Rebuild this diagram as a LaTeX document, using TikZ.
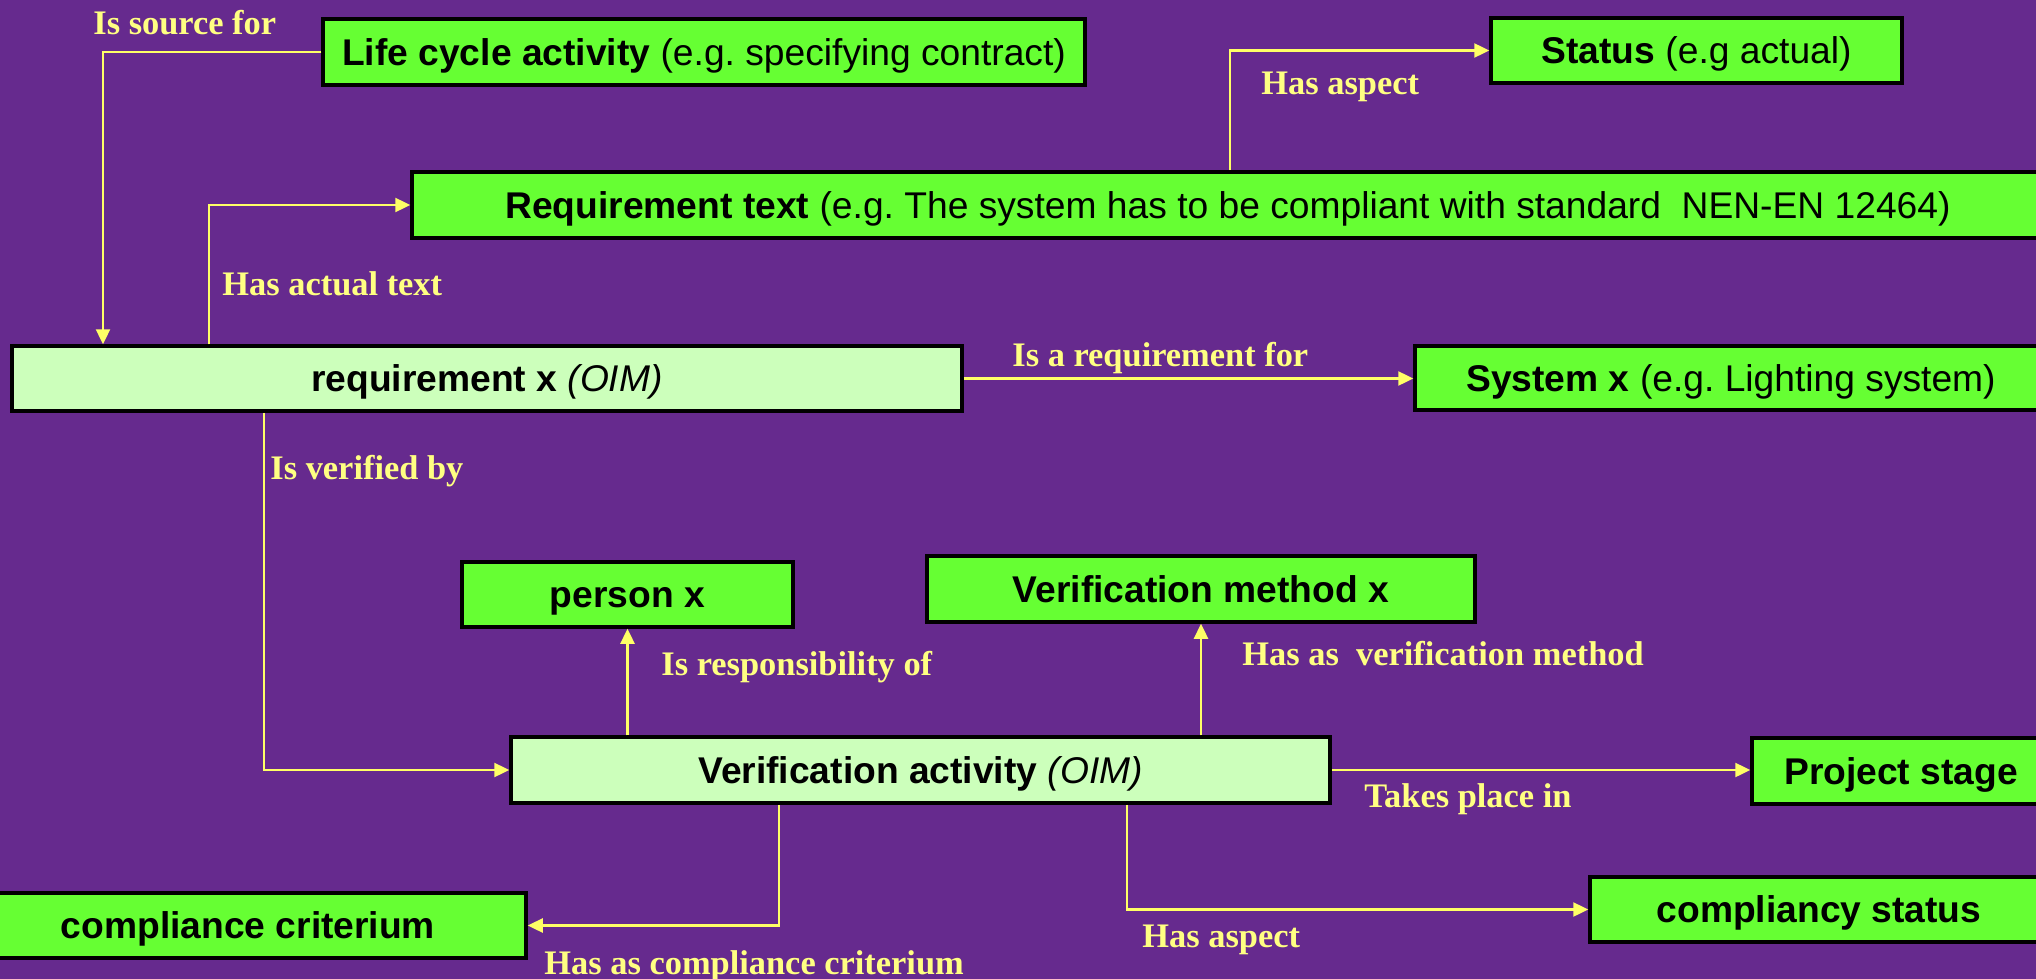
\documentclass[tikz,border=0pt]{standalone}
\usepackage{fontspec}
\setmainfont{Liberation Serif}
\newfontfamily\arialf{Liberation Sans}
\usetikzlibrary{arrows.meta}
\definecolor{bgpurple}{RGB}{102,42,142}
\definecolor{boxgreen}{RGB}{102,255,51}
\definecolor{lightgreen}{RGB}{204,255,187}
\definecolor{lineyellow}{RGB}{255,255,102}
\definecolor{labelyellow}{RGB}{255,255,130}
\frenchspacing
\begin{document}
\begin{tikzpicture}[x=0.5pt,y=-0.5pt,
  box/.style={draw=black, line width=1.75pt, fill=boxgreen, inner sep=0pt,
    font=\arialf\fontsize{18.6}{22}\selectfont, text height=13.4pt, text depth=0pt, anchor=center},
  oim/.style={box, fill=lightgreen},
  conn/.style={draw=lineyellow, line width=1.2pt, -{Triangle[length=7.5pt,width=7pt]}},
  lbl/.style={text=labelyellow, font=\bfseries\fontsize{17.2}{20}\selectfont, inner sep=0pt, anchor=base west}]
\useasboundingbox (0,0) rectangle (2036,979);
\fill[bgpurple] (0,0) rectangle (2036,979);

% boxes
\node[box, minimum width=381pt, minimum height=33pt] (life) at (704,52) {\textbf{Life cycle activity} (e.g. specifying contract)};
\node[box, minimum width=205.5pt, minimum height=32.5pt] (status) at (1696.5,50.5) {\textbf{Status} (e.g actual)};
\node[box, minimum width=816pt, minimum height=33pt] (reqtext) at (1228,205) {\textbf{Requirement text} (e.g. The system has to be compliant with standard\ \ NEN-EN 12464)};
\node[oim, minimum width=475pt, minimum height=32.5pt] (reqx) at (487,378.5) {\textbf{requirement x} \textit{(OIM)}};
\node[box, minimum width=316pt, minimum height=32pt] (system) at (1731,378) {\textbf{System x} (e.g. Lighting system)};
\node[box, minimum width=165.5pt, minimum height=32.5pt] (person) at (627.5,594.5) {\textbf{person x}};
\node[box, minimum width=274pt, minimum height=33pt] (vm) at (1201,589) {\textbf{Verification method x}};
\node[oim, minimum width=409.5pt, minimum height=33pt] (va) at (920.5,770) {\textbf{Verification activity} \textit{(OIM)}};
\node[box, minimum width=149pt, minimum height=33pt] (project) at (1901,771) {\textbf{Project stage}};
\node[box, minimum width=278pt, minimum height=32.5pt] (crit) at (248,925.5) {\textbf{compliance criterium}};
\node[box, minimum width=229pt, minimum height=32.5pt] (cstatus) at (1819,909.5) {\textbf{compliancy status}};

% bend coordinates
\coordinate (xsrc) at (103,0);
\coordinate (xact) at (209,0);
\coordinate (xasp) at (1230,0);
\coordinate (xver) at (264,0);
\coordinate (xcrit) at (779,0);
\coordinate (xcst) at (1127,0);

% connectors
\draw[conn] (life.west) -| (xsrc |- reqx.north);
\draw[conn] (xact |- reqx.north) |- (reqtext.west);
\draw[conn] (xasp |- reqtext.north) |- (status.west);
\draw[conn] (reqx.east) -- (system.west |- reqx.east);
\draw[conn] (xver |- reqx.south) |- (va.west);
\draw[conn] (person.south |- va.north) -- (person.south);
\draw[conn] (vm.south |- va.north) -- (vm.south);
\draw[conn] (va.east) -- (project.west |- va.east);
\draw[conn] (xcrit |- va.south) |- (crit.east);
\draw[conn] (xcst |- va.south) |- (cstatus.west);

% labels
\node[lbl] (l1) at (93,35) {Is source for};
\node[lbl] (l2) at (222,295) {Has actual text};
\node[lbl] (l3) at (1261,95) {Has aspect};
\node[lbl] (l4) at (1012,366) {Is a requirement for};
\node[lbl] (l5) at (270,479) {Is verified by};
\node[lbl] (l6) at (661,675) {Is responsibility of};
\node[lbl] (l7) at (1242,665) {Has as\ \ verification method};
\node[lbl] (l8) at (1364,807) {Takes place in};
\node[lbl] (l9) at (1142,947) {Has aspect};
\node[lbl] (l10) at (544,974) {Has as compliance criterium};
\end{tikzpicture}
\end{document}
